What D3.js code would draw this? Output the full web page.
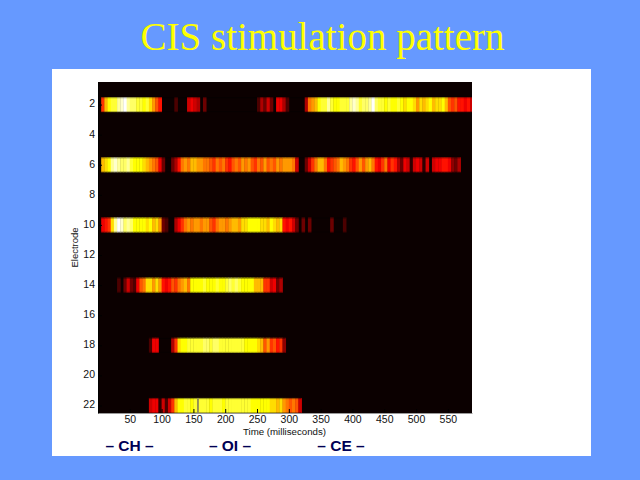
<!DOCTYPE html>
<html><head><meta charset="utf-8">
<script src="https://cdn.jsdelivr.net/npm/d3@7"></script>
<style>html,body{margin:0;padding:0;background:#6699ff}svg{display:block}</style>
</head><body><svg id="c" width="640" height="480"></svg>
<script>
const titleText = "CIS stimulation pattern";
const xLabel = "Time (milliseconds)";
const yLabel = "Electrode";
const xTicks = [50,100,150,200,250,300,350,400,450,500,550];
const yTicks = [2,4,6,8,10,12,14,16,18,20,22];
const phases = [["– CH –",129.5],["– OI –",230],["– CE –",341]];
const binMs = 5;
// intensity per 5 ms bin, 0..20
const e2 = [0,9,13,15,16,16,18,19,20,18,17,17,16,16,15,16,14,12,10,8,0,0,0,0,2,0,0,0,6,7,6,5,0,3,0,0,0,0,0,0,0,0,0,0,0,0,0,0,0,0,2,5,3,6,3,0,7,7,5,2,0,0,0,0,0,5,11,12,13,15,16,16,18,16,15,15,16,16,16,18,19,18,16,17,17,18,20,17,16,16,15,16,15,15,16,15,14,15,15,14,12,14,13,14,15,13,14,14,15,13,10,9,10,8,8,7,8,6];
const e6 = [0,13,14,15,18,19,18,17,17,18,16,15,15,15,14,13,12,11,10,7,3,0,0,3,5,8,11,12,11,13,13,12,12,11,11,10,9,11,10,11,9,8,10,11,10,12,11,12,10,9,11,10,12,10,11,10,12,11,12,12,12,11,6,0,0,3,6,9,11,13,13,11,8,9,10,11,13,12,11,9,8,10,12,10,12,13,11,8,7,9,11,7,9,8,5,3,7,6,1,6,7,6,1,6,0,6,7,7,8,8,7,4,3,5];
const e10 = [0,7,8,9,14,18,20,19,17,18,17,15,15,15,15,14,15,13,14,12,3,2,0,0,5,7,9,11,12,11,12,12,11,12,12,10,9,11,12,12,11,12,13,13,12,14,14,15,15,15,15,14,14,13,15,14,13,14,8,7,8,6,3,0,3,0,3,0,0,0,0,0,0,3,0,0,0,2];
const e14 = [0,0,0,0,0,0,2,0,3,6,3,2,7,10,11,14,14,12,14,12,8,7,8,10,9,11,12,13,11,15,15,15,15,16,15,15,15,16,15,15,16,17,16,17,16,15,15,15,15,13,13,13,9,9,6,7,3,5];
const e18 = [0,0,0,0,0,0,0,0,0,0,0,0,0,0,0,0,2,7,7,0,0,0,0,5,9,14,15,15,16,16,16,16,16,17,17,16,17,17,16,16,16,16,16,16,16,16,15,15,15,15,14,13,10,12,9,10,8,9,4];
const e22 = [0,0,0,0,0,0,0,0,0,0,0,0,0,0,0,0,6,7,7,1,6,2,6,9,13,15,15,16,16,15,16,16,16,16,16,15,16,16,16,15,16,16,16,16,16,16,16,16,15,15,15,15,15,15,14,14,13,14,12,11,10,11,10,6];
const rows = [[2,e2],[6,e6],[10,e10],[14,e14],[18,e18],[22,e22]];
const grayMarkMs = [157];

const svg = d3.select("#c");
const x = d3.scaleLinear().domain([0,588]).range([98,472]);
const y = d3.scaleLinear().domain([0.5,22.5]).range([82,413]);
const hot = d3.scaleLinear()
  .domain([0,7.5,15,20])
  .range(["#0b0000","#ff0000","#ffff00","#ffffff"]).clamp(true);

svg.append("rect").attr("width",640).attr("height",480).attr("fill","#6699ff");
svg.append("rect").attr("x",52).attr("y",69).attr("width",539).attr("height",387).attr("fill","#fff");
svg.append("text").attr("x",322.5).attr("y",50).attr("text-anchor","middle")
  .attr("font-family","'Liberation Serif'").attr("font-size",39).attr("fill","#ffff00").text(titleText);

svg.append("clipPath").attr("id","plot").append("rect").attr("x",x(0)).attr("y",y(0.5)).attr("width",x(588)-x(0)).attr("height",y(22.5)-y(0.5));
svg.append("rect").attr("x",x(0)).attr("y",y(0.5)).attr("width",x(588)-x(0)).attr("height",y(22.5)-y(0.5)).attr("fill",hot(0));

const g = svg.append("g").attr("clip-path","url(#plot)");
rows.forEach(([el,vals])=>{
  const yt = y(el-0.5), h = y(el+0.5)-y(el-0.5);
  g.selectAll(null).data(vals.map((v,i)=>({v,i})).filter(d=>d.v>0)).join("rect")
    .attr("x",d=>x(d.i*binMs)).attr("y",yt)
    .attr("width",d=>x((d.i+1)*binMs)-x(d.i*binMs)+0.4).attr("height",h)
    .attr("fill",d=>hot(d.v));
  // soft upper/lower edge of each row
  const last = vals.length*binMs;
  const first = vals.findIndex(v=>v>0)*binMs;
  g.append("rect").attr("x",x(first)).attr("y",yt).attr("width",x(last)-x(first)).attr("height",1.2).attr("fill","#000").attr("opacity",.4);
  g.append("rect").attr("x",x(first)).attr("y",yt+h-1).attr("width",x(last)-x(first)).attr("height",1).attr("fill","#000").attr("opacity",.3);
});
grayMarkMs.forEach(t=>{
  svg.append("rect").attr("x",x(t)-0.8).attr("y",y(21.5)).attr("width",1.8).attr("height",y(22.5)-y(21.5)).attr("fill","#8f8a55");
});

const xAxis = d3.axisBottom(x).tickValues(xTicks).tickSize(-4).tickSizeOuter(0);
const yAxis = d3.axisLeft(y).tickValues(yTicks).tickSize(-4).tickSizeOuter(0);
const gx = svg.append("g").attr("transform","translate(0,413)").call(xAxis);
const gy = svg.append("g").attr("transform","translate(98,0)").call(yAxis);
[gx,gy].forEach(a=>{
  a.select(".domain").attr("stroke","#000").attr("stroke-width",1);
  a.selectAll(".tick line").attr("stroke","#000");
  a.selectAll("text").attr("font-family","'Liberation Sans'").attr("font-size",10.5).attr("fill","#111");
});
gx.select(".domain").attr("stroke","#999");
gy.selectAll("text").attr("x",-3).attr("dy","0.32em").attr("y",-1);
gx.selectAll("text").attr("y",2.5);
svg.append("text").attr("x",284.5).attr("y",435).attr("text-anchor","middle")
  .attr("font-family","'Liberation Sans'").attr("font-size",9.7).attr("fill","#111").text(xLabel);
svg.append("text").attr("transform","translate(78,247.5) rotate(-90)").attr("text-anchor","middle")
  .attr("font-family","'Liberation Sans'").attr("font-size",9.5).attr("fill","#111").text(yLabel);
phases.forEach(([t,px])=>{
  svg.append("text").attr("x",px).attr("y",451).attr("text-anchor","middle")
    .attr("font-family","'Liberation Sans'").attr("font-weight","bold").attr("font-size",15.5).attr("fill","#000055").text(t);
});
</script></body></html>
